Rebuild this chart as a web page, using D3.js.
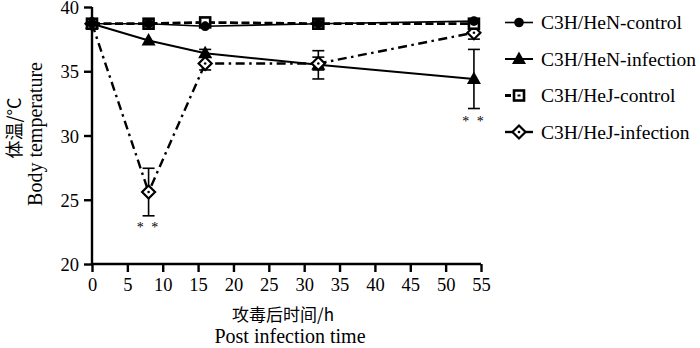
<!DOCTYPE html>
<html>
<head>
<meta charset="utf-8">
<script src="https://cdn.jsdelivr.net/npm/d3@7"></script>
<style>
  body { margin: 0; background: #fff; }
  svg text { font-family: "Liberation Serif", "Times New Roman", serif; fill: #000; }
</style>
</head>
<body>
<svg id="chart" width="700" height="348"></svg>
<script>
const times = [0, 8, 16, 32, 54];
const henControl = [38.7, 38.7, 38.5, 38.7, 38.9];
const henInfection = [38.7, 37.4, 36.4, 35.5, 34.4];
const henInfectionErr = [0.1, 0.2, 0.3, 1.1, 2.3];
const hejControl = [38.7, 38.7, 38.8, 38.7, 38.7];
const hejInfection = [38.7, 25.6, 35.6, 35.6, 38.0];
const hejInfectionErr = [0.1, 1.85, 0.5, 0.5, 0.5];
const xTicks = [0, 5, 10, 15, 20, 25, 30, 35, 40, 45, 50, 55];
const yTicks = [20, 25, 30, 35, 40];
const seriesNames = ["C3H/HeN-control", "C3H/HeN-infection", "C3H/HeJ-control", "C3H/HeJ-infection"];
const sigMarks = [{ t: 8, v: 23.8 }, { t: 54, v: 32.1 }];

const svg = d3.select("#chart");
const x = d3.scaleLinear().domain([0, 55]).range([92, 481]);
const y = d3.scaleLinear().domain([20, 40]).range([264, 7]);

const series = [
    { name: seriesNames[0], vals: henControl, err: null, dash: null, width: 1.6, sym: "circle", legDash: null },
    { name: seriesNames[1], vals: henInfection, err: henInfectionErr, dash: null, width: 2, sym: "triangle", legDash: null },
    { name: seriesNames[2], vals: hejControl, err: null, dash: "8,3.5", width: 2.8, sym: "square", legDash: "6,5,2,20" },
    { name: seriesNames[3], vals: hejInfection, err: hejInfectionErr, dash: "9,4.5,2.5,4.5", width: 2.4, sym: "diamond", legDash: null }
];

// axes
const xAxis = svg.append("g").attr("transform", `translate(0,${y(20)})`)
    .call(d3.axisBottom(x).tickValues(xTicks).tickSize(8).tickPadding(6));
const yAxis = svg.append("g").attr("transform", `translate(${x(0)},0)`)
    .call(d3.axisLeft(y).tickValues(yTicks).tickSize(8).tickPadding(5));
[xAxis, yAxis].forEach(a => {
    a.attr("font-family", null);
    a.select(".domain").attr("stroke", "#000").attr("stroke-width", 2.4);
    a.selectAll(".tick line").attr("stroke", "#000").attr("stroke-width", 2.4);
    a.selectAll(".tick text").attr("fill", "#000").style("font-size", "18.5px").style("font-family", "'Liberation Serif', serif");
});
xAxis.select(".domain").attr("d", `M${x(0)},0H${x(55)}`);
yAxis.select(".domain").attr("d", `M0,${y(20)}V${y(40)}`);
yAxis.selectAll(".tick text").attr("dy", "0.36em");

function drawSymbol(g, type, cx, cy) {
    if (type === "circle") {
        g.append("circle").attr("cx", cx).attr("cy", cy).attr("r", 4.8).attr("fill", "#000");
    } else if (type === "triangle") {
        g.append("path").attr("d", `M${cx},${cy - 7.5}L${cx + 7},${cy + 5}L${cx - 7},${cy + 5}Z`).attr("fill", "#000");
    } else if (type === "square") {
        g.append("rect").attr("x", cx - 5).attr("y", cy - 5).attr("width", 10).attr("height", 10)
            .attr("fill", "#fff").attr("stroke", "#000").attr("stroke-width", 2.6);
        g.append("rect").attr("x", cx - 1.5).attr("y", cy - 1).attr("width", 3).attr("height", 2).attr("fill", "#000");
    } else {
        g.append("path").attr("d", `M${cx},${cy - 6.5}L${cx + 6.5},${cy}L${cx},${cy + 6.5}L${cx - 6.5},${cy}Z`)
            .attr("fill", "#fff").attr("stroke", "#000").attr("stroke-width", 2.2);
        g.append("circle").attr("cx", cx).attr("cy", cy).attr("r", 1.3).attr("fill", "#000");
    }
}

const line = d3.line().x((d, i) => x(times[i])).y(d => y(d));
const plot = svg.append("g");

// error bars
series.forEach(s => {
    if (!s.err) return;
    s.vals.forEach((v, i) => {
        const e = s.err[i];
        if (e < 0.3) return;
        const cx = x(times[i]);
        plot.append("line").attr("x1", cx).attr("x2", cx).attr("y1", y(v + e)).attr("y2", y(v - e))
            .attr("stroke", "#000").attr("stroke-width", 1.6);
        [v + e, v - e].forEach(ev => {
            plot.append("line").attr("x1", cx - 6).attr("x2", cx + 6).attr("y1", y(ev)).attr("y2", y(ev))
                .attr("stroke", "#000").attr("stroke-width", 1.6);
        });
    });
});

// lines
series.forEach(s => {
    plot.append("path").datum(s.vals).attr("d", line).attr("fill", "none").attr("stroke", "#000")
        .attr("stroke-width", s.width).attr("stroke-dasharray", s.dash);
});

// markers: square below circle so the circle shows through
[1, 3, 2, 0].forEach(k => {
    const s = series[k];
    s.vals.forEach((v, i) => drawSymbol(plot, s.sym, x(times[i]), y(v)));
});

// significance
sigMarks.forEach(m => {
    svg.append("text").attr("x", x(m.t)).attr("y", y(m.v) + 17).attr("text-anchor", "middle")
        .attr("fill", "#000").style("font-size", "14px").style("letter-spacing", "2px").text("* *");
});

// axis titles
svg.append("text").attr("x", 283).attr("y", 321).attr("text-anchor", "middle")
    .style("font-size", "17px").style("font-family", "Noto Sans CJK SC").text("攻毒后时间/h");
svg.append("text").attr("x", 290).attr("y", 343).attr("text-anchor", "middle")
    .style("font-size", "20px").text("Post infection time");
svg.append("text").attr("transform", "translate(21,128) rotate(-90)").attr("text-anchor", "middle")
    .style("font-size", "18px").style("font-family", "Noto Sans CJK SC").text("体温/°C");
svg.append("text").attr("transform", "translate(42,134) rotate(-90)").attr("text-anchor", "middle")
    .style("font-size", "20px").text("Body temperature");

// legend
const legend = svg.append("g");
series.forEach((s, i) => {
    const ly = 22.5 + i * 36.5;
    legend.append("line").attr("x1", 505).attr("x2", 533).attr("y1", ly).attr("y2", ly)
        .attr("stroke", "#000").attr("stroke-width", s.width).attr("stroke-dasharray", s.legDash);
    drawSymbol(legend, s.sym, 519, ly);
    legend.append("text").attr("x", 541).attr("y", ly + 6.5).style("font-size", "19.5px").text(s.name);
});
</script>
</body>
</html>
